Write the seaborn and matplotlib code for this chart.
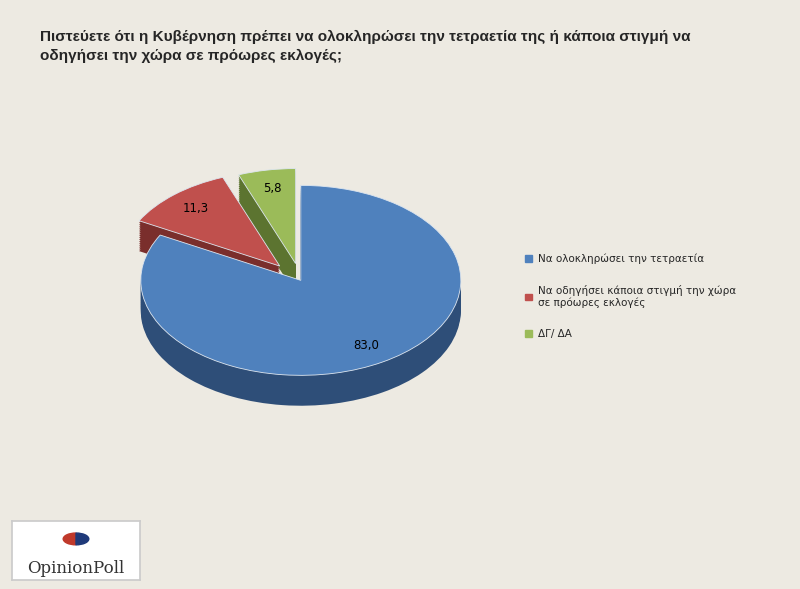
import matplotlib
matplotlib.use("Agg")
import matplotlib.pyplot as plt
import seaborn as sns
from matplotlib.patches import Wedge

sns.set_theme(style="white")

categories = ["Να ολοκληρώσει την τετραετία",
              "Να οδηγήσει κάποια στιγμή την χώρα\nσε πρόωρες εκλογές",
              "ΔΓ/ ΔΑ"]
values = [83.0, 11.3, 5.8]
value_labels = ["83,0", "11,3", "5,8"]
top_colors = ["#4F81BD", "#C0504D", "#9BBB59"]
side_colors = ["#2E4E78", "#7A2E2C", "#5C7430"]
explode = [0.0, 0.2, 0.18]

bg = "#EDEAE2"
fig = plt.figure(figsize=(8, 5.89), dpi=100, facecolor=bg)

fig.text(0.05, 0.95, "Πιστεύετε ότι η Κυβέρνηση πρέπει να ολοκληρώσει την τετραετία της ή κάποια στιγμή να\n"
         "οδηγήσει την χώρα σε πρόωρες εκλογές;", fontsize=11, fontweight="bold",
         family="Liberation Sans", va="top", ha="left", linespacing=1.5)

ax = fig.add_axes([0.076, 0.266, 0.6, 0.516])
ax.set_facecolor(bg)
ax.axis("off")

depth = 0.32
steps = 16
for i in range(steps, 0, -1):
    d = depth * i / steps
    ax.pie(values, colors=side_colors, explode=explode, startangle=90, counterclock=False,
           center=(0, -d), radius=1, wedgeprops=dict(linewidth=0), frame=False)

wedges, texts, autotexts = ax.pie(
    values, colors=top_colors, explode=explode, startangle=90, counterclock=False,
    radius=1, autopct="%.1f", pctdistance=0.8,
    wedgeprops=dict(linewidth=0.6, edgecolor="#DDE6F0"), frame=False,
    textprops=dict(fontsize=8.5, color="black"))
for t, lab in zip(autotexts, value_labels):
    t.set_text(lab)
ax.set_aspect("auto")
ax.set_xlim(-1.5, 1.5)
ax.set_ylim(-1.6, 1.6)

handles = [plt.Rectangle((0, 0), 1, 1, color=c) for c in top_colors]
fig.legend(handles, categories, loc="upper left", bbox_to_anchor=(0.645, 0.585),
           frameon=False, fontsize=7.5, handlelength=0.6, handleheight=0.6,
           handletextpad=0.6, labelspacing=2.0)

# logo
lax = fig.add_axes([0.015, 0.015, 0.16, 0.1])
lax.set_facecolor("white")
lax.set_xlim(0, 1)
lax.set_ylim(0, 1)
lax.set_xticks([])
lax.set_yticks([])
for s in lax.spines.values():
    s.set_color("#CCCCCC")
lax.add_patch(Wedge((0.5, 0.7), 0.1, 90, 270, color="#C0392B"))
lax.add_patch(Wedge((0.5, 0.7), 0.1, 270, 90, color="#1F3A7A"))
lax.text(0.5, 0.2, "OpinionPoll", ha="center", va="center", fontsize=12,
         family="DejaVu Serif", color="#333333")

fig.savefig("out.png", dpi=100, facecolor=bg)
